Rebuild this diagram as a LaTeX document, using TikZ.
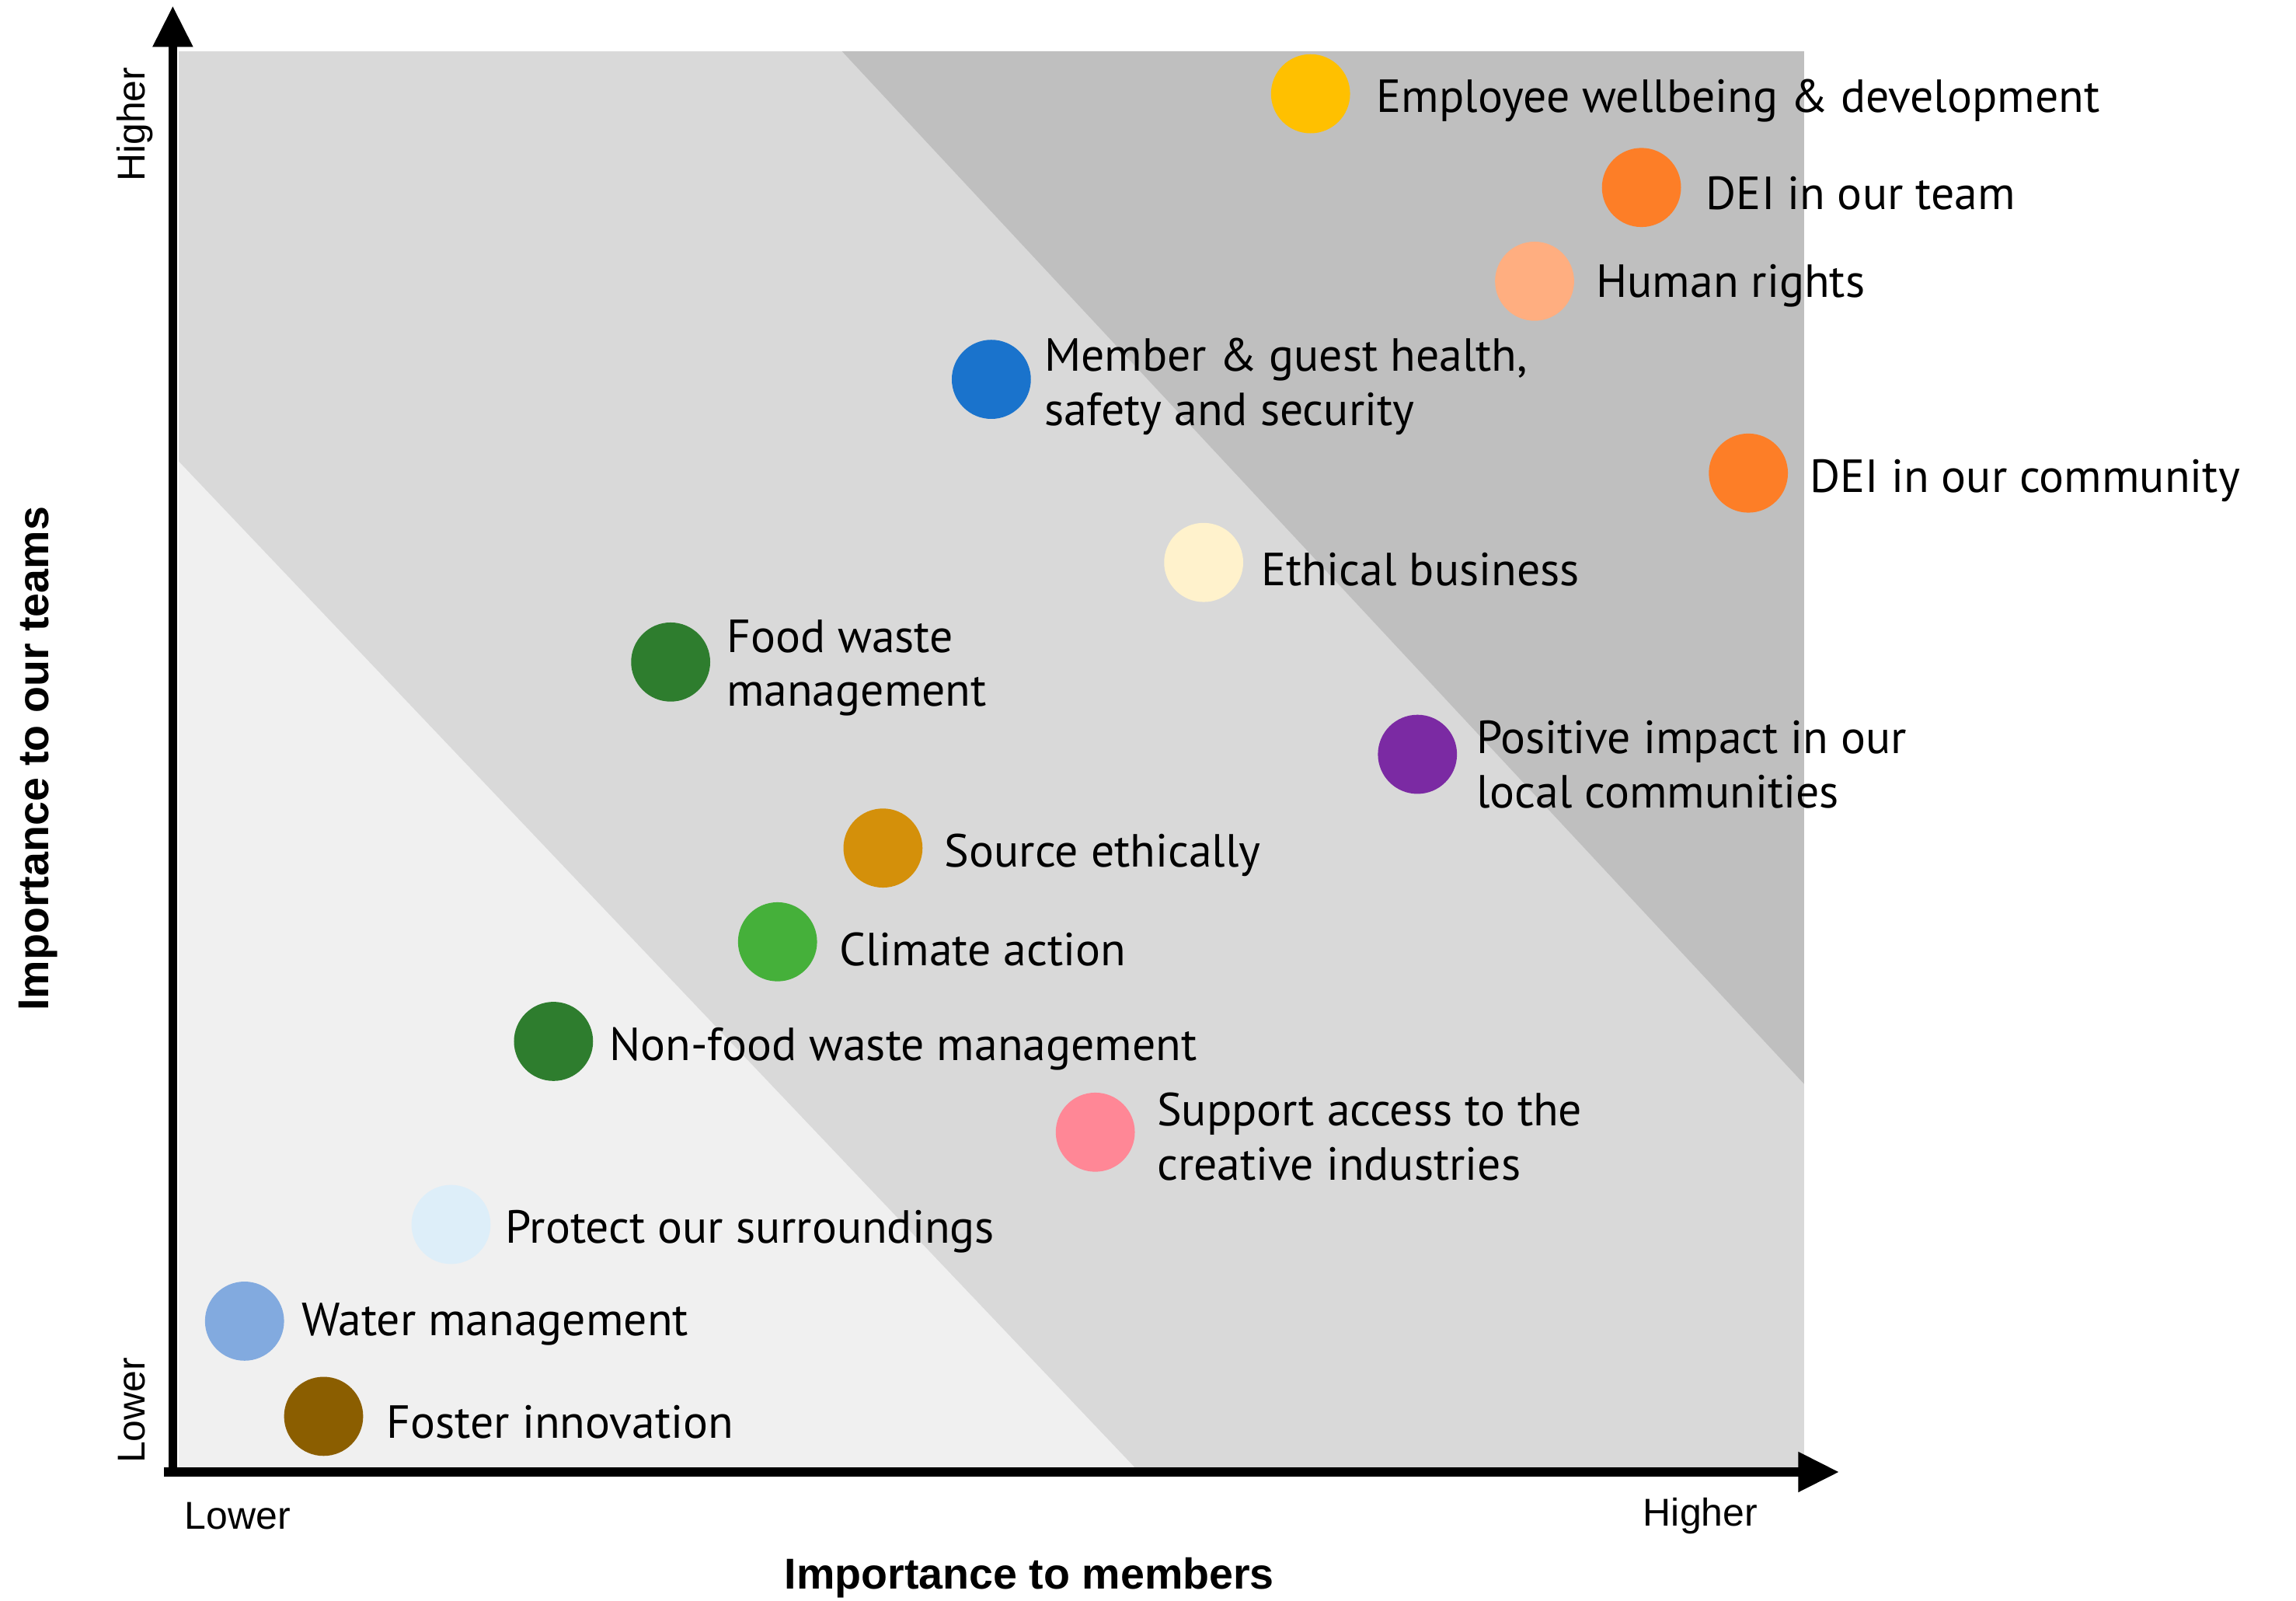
\documentclass[tikz,border=0pt]{standalone}
\usepackage{fontspec}
\setmainfont{PT Sans}
\newfontfamily\axisfont{Liberation Sans}
\usetikzlibrary{arrows.meta}
\definecolor{bglight}{HTML}{F0F0F0}
\definecolor{bgmid}{HTML}{D9D9D9}
\definecolor{bgdark}{HTML}{BFBFBF}
\definecolor{cyellow}{HTML}{FFC000}
\definecolor{corange}{HTML}{FD7E27}
\definecolor{cpeach}{HTML}{FFAE80}
\definecolor{cblue}{HTML}{1A73CC}
\definecolor{ccream}{HTML}{FFF2CC}
\definecolor{cdkgreen}{HTML}{2E7D2E}
\definecolor{cpurple}{HTML}{7B2AA3}
\definecolor{cgold}{HTML}{D4900A}
\definecolor{cgreen}{HTML}{45B03A}
\definecolor{cpink}{HTML}{FF8796}
\definecolor{cltblue}{HTML}{DDEEF9}
\definecolor{cwater}{HTML}{82AADF}
\definecolor{cbrown}{HTML}{8B5E00}
\tikzset{
  dot/.style={circle, minimum size=54pt, inner sep=0pt, draw=none, fill=#1},
  lbl/.style={anchor=west, inner sep=0pt, align=left, font=\fontsize{31.7}{37}\selectfont},
  axlbl/.style={inner sep=0pt, font=\axisfont\fontsize{26.5}{30}\selectfont},
  axtitle/.style={inner sep=0pt, font=\axisfont\bfseries\fontsize{29.5}{34}\selectfont},
  axisline/.style={line width=6pt, -{Triangle[length=28pt,width=26pt]}}
}
\begin{document}
\begin{tikzpicture}[x={(1pt,0)}, y={(0,-1pt)}]
\useasboundingbox (0,0) rectangle (1568,1093);
% background zones
\fill[bgmid] (122,35) rectangle (1232,1002);
\fill[bglight] (122,315) -- (775,1002) -- (122,1002) -- cycle;
\fill[bgdark] (575,35) -- (1232,35) -- (1232,740) -- cycle;
% axes
\coordinate (ytip) at (118,4);
\coordinate (ystart) at (118,1008);
\coordinate (xstart) at (112,1005);
\coordinate (xtip) at (1256,1005);
\draw[axisline] (ystart) -- (ytip);
\draw[axisline] (xstart) -- (xtip);
% axis labels
\node[axlbl, rotate=90] (yhigh) at (92,85) {Higher};
\node[axlbl, rotate=90] (ylow) at (90,963) {Lower};
\node[axlbl, anchor=west] (xlow) at (126,1035) {Lower};
\node[axlbl, anchor=west] (xhigh) at (1122,1035) {Higher};
\node[axtitle] (xtitle) at (703,1077) {Importance to members};
\node[axtitle, rotate=90] (ytitle) at (26,518) {Importance to our teams};
% items
\node[dot=cyellow] (d1) at (895,64) {};
\node[lbl] (t1) at (940,69) {Employee wellbeing \& development};
\node[dot=corange] (d2) at (1121,128) {};
\node[lbl] (t2) at (1165,132) {DEI in our team};
\node[dot=cpeach] (d3) at (1048,192) {};
\node[lbl] (t3) at (1090,195) {Human rights};
\node[dot=cblue] (d4) at (677,259) {};
\node[lbl] (t4) at (713,264) {Member \& guest health,\\safety and security};
\node[dot=corange] (d5) at (1194,323) {};
\node[lbl] (t5) at (1236,328) {DEI in our community};
\node[dot=ccream] (d6) at (822,384) {};
\node[lbl] (t6) at (861,389) {Ethical business};
\node[dot=cdkgreen] (d7) at (458,452) {};
\node[lbl] (t7) at (496,456) {Food waste\\management};
\node[dot=cpurple] (d8) at (968,515) {};
\node[lbl] (t8) at (1008,522) {Positive impact in our\\local communities};
\node[dot=cgold] (d9) at (603,579) {};
\node[lbl] (t9) at (645,584) {Source ethically};
\node[dot=cgreen] (d10) at (531,643) {};
\node[lbl] (t10) at (573,648) {Climate action};
\node[dot=cdkgreen] (d11) at (378,711) {};
\node[lbl] (t11) at (416,716) {Non-food waste management};
\node[dot=cpink] (d12) at (748,773) {};
\node[lbl] (t12) at (790,776) {Support access to the\\creative industries};
\node[dot=cltblue] (d13) at (308,836) {};
\node[lbl] (t13) at (345,841) {Protect our surroundings};
\node[dot=cwater] (d14) at (167,902) {};
\node[lbl] (t14) at (206,904) {Water management};
\node[dot=cbrown] (d15) at (221,967) {};
\node[lbl] (t15) at (264,971) {Foster innovation};
\end{tikzpicture}
\end{document}
